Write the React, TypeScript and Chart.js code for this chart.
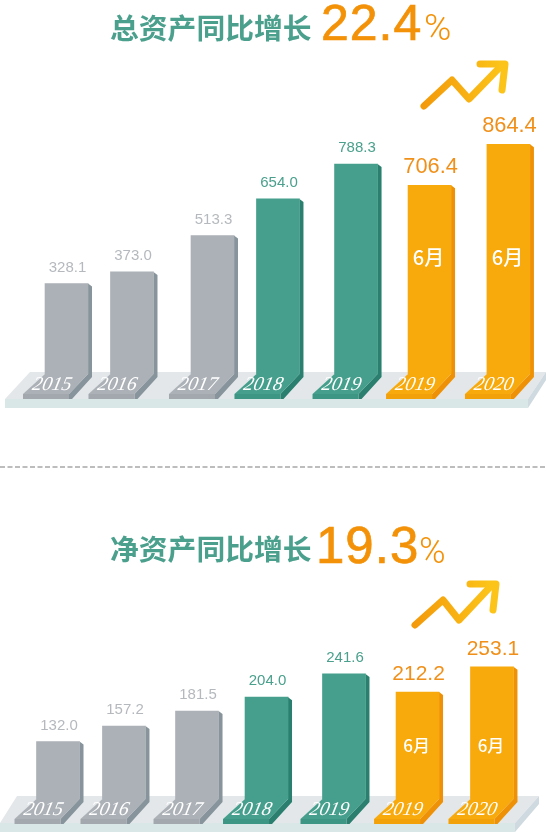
import React, { useEffect, useRef } from 'react';
import { Chart, registerables } from 'chart.js';

Chart.register(...registerables);

const years = ['2015', '2016', '2017', '2018', '2019', '2019', '2020'];
const totalAssets = [328.1, 373.0, 513.3, 654.0, 788.3, 706.4, 864.4];
const netAssets = [132.0, 157.2, 181.5, 204.0, 241.6, 212.2, 253.1];
const monthNotes = ['', '', '', '', '', '6月', '6月'];

// the poster does not space its years evenly, so each one sits on a slot of a linear x axis
const totalSlots = [0, 0.889, 1.982, 2.871, 3.931, 4.929, 6];
const netSlots = [0, 0.912, 1.922, 2.883, 3.954, 4.971, 6];

const GREY = { face: '#abb1b6', side: '#87949b', foot: '#a2a8ae', label: '#b5b9bd' };
const TEAL = { face: '#459f8c', side: '#2a7f6e', foot: '#3d9583', label: '#4aa08c' };
const AMBER = { face: '#f8a90c', side: '#ef9106', foot: '#f2a208', label: '#f0901a' };
const palette = [GREY, GREY, GREY, TEAL, TEAL, AMBER, AMBER];

type Decor = {
  title: string;
  growth: string;
  titleX: number;
  titleY: number;
  growthX: number;
  growthSize: number;
  baseline: number;
  percentX: number;
  percentSize: number;
  arrow: number[][];
  arrowHead: number[][];
  floor: { backL: number; backR: number; frontL: number; frontR: number; backY: number; frontY: number; bottom: number };
  noteY: number;
  noteSize: number;
  bigSize: number;
  divider?: number;
};

const SANS = '"Liberation Sans", Arial, sans-serif';

const makePoster = (values: number[], d: Decor) => ({
  id: 'poster',
  beforeDatasetsDraw(chart: Chart) {
    const { ctx } = chart;
    const f = d.floor;
    const fill = (pts: number[][], color: string) => {
      ctx.fillStyle = color;
      ctx.beginPath();
      pts.forEach(([x, y], i) => (i ? ctx.lineTo(x, y) : ctx.moveTo(x, y)));
      ctx.closePath();
      ctx.fill();
    };
    ctx.save();
    // platform under the bars
    fill([[f.backL, f.backY], [f.backR, f.backY], [f.frontR, f.frontY], [f.frontL, f.frontY]], '#e3e7ea');
    fill([[f.frontL, f.frontY], [f.frontR, f.frontY], [f.frontR, f.bottom], [f.frontL, f.bottom]], '#d9e8e7');
    fill([[f.frontR, f.frontY], [f.backR, f.backY], [f.backR, f.backY + 8], [f.frontR, f.bottom]], '#cfd9e0');

    chart.getDatasetMeta(0).data.forEach((el: any, i) => {
      const c = palette[i];
      const x0 = el.x - el.width / 2;
      const x1 = el.x + el.width / 2;
      const top = el.y;
      const base = el.base;
      // side of the bar and of its foot
      fill([[x1, top], [x1 + 4, top + 3], [x1 + 4, base + 3], [x1 - 16, base + 25], [x1 - 19, base + 25], [x1 - 19, base + 20], [x1, base]], c.side);
      // foot lying on the platform
      fill([[x0, base], [x1, base], [x1 - 19, base + 20], [x0 - 22, base + 20]], c.face);
      fill([[x0 - 22, base + 20], [x1 - 19, base + 20], [x1 - 19, base + 25], [x0 - 22, base + 25]], c.foot);
    });
    ctx.restore();
  },
  afterDatasetsDraw(chart: Chart) {
    const { ctx } = chart;
    ctx.save();
    ctx.textAlign = 'center';
    ctx.textBaseline = 'middle';

    chart.getDatasetMeta(0).data.forEach((el: any, i) => {
      const c = palette[i];
      const big = c === AMBER;
      ctx.fillStyle = c.label;
      ctx.font = `${big ? d.bigSize : 15}px ${SANS}`;
      ctx.fillText(values[i].toFixed(1), el.x + 1, el.y - (big ? 18 : 16));

      ctx.fillStyle = '#ffffff';
      if (monthNotes[i]) {
        ctx.font = `500 ${d.noteSize}px "Noto Sans CJK SC"`;
        ctx.fillText(monthNotes[i], el.x - 1, d.noteY);
      }
      // year lettering leans with the foot
      ctx.save();
      ctx.transform(1, 0, -0.22, 1, el.x - 14.5, el.base + 11);
      ctx.font = 'italic 19.5px "Liberation Serif", serif';
      ctx.fillText(years[i], 0, 0);
      ctx.restore();
    });

    // headline
    ctx.textAlign = 'left';
    ctx.fillStyle = TEAL.label;
    ctx.font = 'bold 28.8px "Noto Sans CJK SC"';
    ctx.fillText(d.title, d.titleX, d.titleY);
    ctx.textBaseline = 'alphabetic';
    ctx.fillStyle = '#f39208';
    ctx.strokeStyle = '#f39208';
    ctx.lineWidth = 0.7;
    ctx.font = `${d.growthSize}px ${SANS}`;
    (ctx as any).letterSpacing = '1px';
    ctx.fillText(d.growth, d.growthX, d.baseline);
    ctx.strokeText(d.growth, d.growthX, d.baseline);
    (ctx as any).letterSpacing = '0px';
    ctx.font = `300 ${d.percentSize}px Roboto, ${SANS}`;
    ctx.fillText('%', d.percentX, d.baseline);

    // rising arrow
    const xs = d.arrow.map((p) => p[0]);
    const grad = ctx.createLinearGradient(xs[0], 0, xs[xs.length - 1], 0);
    grad.addColorStop(0, '#f39a0a');
    grad.addColorStop(1, '#fcc419');
    ctx.strokeStyle = grad;
    ctx.lineWidth = 7;
    ctx.lineCap = 'round';
    ctx.lineJoin = 'round';
    [d.arrow, d.arrowHead].forEach((line) => {
      ctx.beginPath();
      line.forEach(([x, y], i) => (i ? ctx.lineTo(x, y) : ctx.moveTo(x, y)));
      ctx.stroke();
    });

    if (d.divider) {
      ctx.strokeStyle = '#a8a8a8';
      ctx.lineWidth = 1.5;
      ctx.lineCap = 'butt';
      ctx.setLineDash([5, 2.5]);
      ctx.beginPath();
      ctx.moveTo(0, d.divider);
      ctx.lineTo(546, d.divider);
      ctx.stroke();
    }
    ctx.restore();
  },
});

type PanelProps = {
  top: number;
  height: number;
  values: number[];
  slots: number[];
  xRange: number[];
  yRange: number[];
  pad: number;
  decor: Decor;
};

const Panel: React.FC<PanelProps> = ({ top, height, values, slots, xRange, yRange, pad, decor }) => {
  const chartRef = useRef<HTMLCanvasElement>(null);

  useEffect(() => {
    if (!chartRef.current) return;
    const chart = new Chart(chartRef.current, {
      type: 'bar',
      data: {
        datasets: [
          {
            data: values.map((v, i) => ({ x: slots[i], y: v })),
            base: yRange[0],
            backgroundColor: palette.map((c) => c.face),
            barThickness: 43,
            borderWidth: 0,
          } as any,
        ],
      },
      options: {
        animation: false,
        responsive: false,
        layout: { padding: { bottom: pad } },
        plugins: { legend: { display: false }, tooltip: { enabled: false } },
        scales: {
          x: { type: 'linear', display: false, min: xRange[0], max: xRange[1], offset: false },
          y: { display: false, min: yRange[0], max: yRange[1] },
        },
      },
      plugins: [makePoster(values, decor)],
    });
    return () => chart.destroy();
  }, []);

  return (
    <canvas
      ref={chartRef}
      width={546}
      height={height}
      style={{ position: 'absolute', left: 0, top, width: 546, height }}
    ></canvas>
  );
};

const totalDecor: Decor = {
  title: '总资产同比增长',
  growth: '22.4',
  titleX: 110,
  titleY: 28,
  growthX: 321,
  growthSize: 50,
  baseline: 40,
  percentX: 424,
  percentSize: 37,
  arrow: [[424, 106], [452, 80], [469, 99], [502, 65]],
  arrowHead: [[480, 64], [505, 64], [502, 90]],
  floor: { backL: 30, backR: 546, frontL: 5, frontR: 528, backY: 372, frontY: 399, bottom: 408 },
  noteY: 257,
  noteSize: 20,
  bigSize: 21.8,
  divider: 467,
};

const netDecor: Decor = {
  title: '净资产同比增长',
  growth: '19.3',
  titleX: 110,
  titleY: 79.5,
  growthX: 316,
  growthSize: 51,
  baseline: 93,
  percentX: 419,
  percentSize: 36,
  arrow: [[415, 155], [443, 130], [459, 150], [490, 117]],
  arrowHead: [[470, 114], [496, 114], [493, 140]],
  floor: { backL: 17, backR: 539, frontL: 0, frontR: 515, backY: 326, frontY: 353, bottom: 362 },
  noteY: 276,
  noteSize: 17,
  bigSize: 21,
};

const App: React.FC = () => (
  <div style={{ position: 'absolute', left: 0, top: 0, width: 546, height: 837, overflow: 'hidden', background: '#fff' }}>
    <Panel
      top={0}
      height={470}
      values={totalAssets}
      slots={totalSlots}
      xRange={[-0.903, 6.51]}
      yRange={[-20, 1420]}
      pad={96}
      decor={totalDecor}
    />
    <Panel
      top={470}
      height={367}
      values={netAssets}
      slots={netSlots}
      xRange={[-0.802, 6.747]}
      yRange={[39, 572]}
      pad={38}
      decor={netDecor}
    />
  </div>
);

export default App;
